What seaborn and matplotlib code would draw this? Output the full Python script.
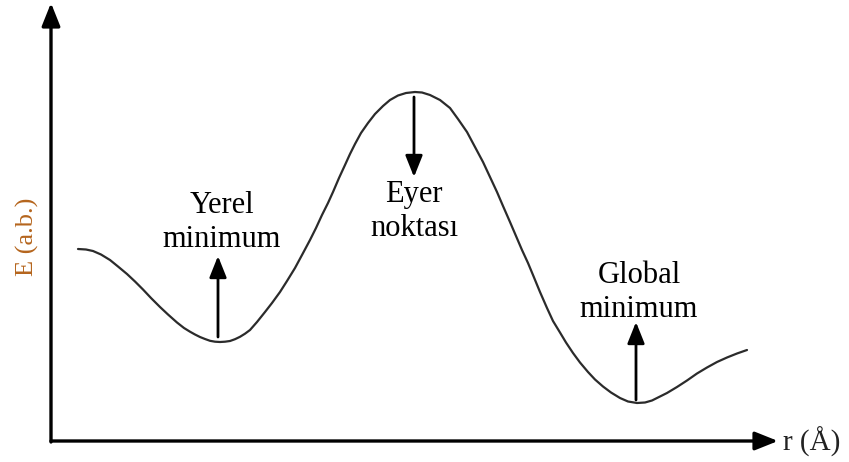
import numpy as np
import pandas as pd
import matplotlib
matplotlib.use("Agg")
import matplotlib.pyplot as plt
import seaborn as sns

# potential energy curve (arbitrary units)
r_values = [78, 86, 93, 101, 110, 118, 127, 135, 143, 151, 160, 168, 177, 184,
            190, 195, 200, 205, 210, 215, 220, 225, 230, 235, 240, 245, 250, 257,
            265, 272, 280, 287, 295, 302, 310, 316, 322, 328, 333, 339, 345, 350,
            355, 361, 368, 375, 383, 390, 398, 406, 415, 422, 430, 440, 450, 458,
            467, 475, 483, 490, 497, 503, 510, 516, 522, 528, 533, 540, 547, 553,
            560, 566, 573, 580, 588, 595, 603, 611, 620, 628, 637, 645, 652, 660,
            667, 677, 687, 697, 707, 717, 727, 737, 747]
e_values = [213, 212.5, 211, 207.5, 202, 195.5, 188, 180.5, 172.5, 164, 155, 147.5, 139.5, 134,
            130.3, 127.5, 125, 123, 121.2, 120.3, 120, 120.3, 121, 122.8, 125.2, 128.3, 132, 140,
            150, 159, 170, 181, 194, 207, 222, 234, 247, 259, 270, 284, 297, 308,
            318, 329, 339, 348, 356, 362, 366.5, 369, 370, 369.5, 367, 362, 354, 343,
            330, 315, 300, 285, 270, 256, 240, 226, 212, 199, 187, 170, 154, 141,
            129.5, 119.5, 109, 99.5, 90, 82.5, 75.5, 69.5, 64, 60.5, 59, 59.5, 61.5, 65.5,
            69, 75, 81.5, 88.5, 94.5, 100, 104.5, 108.5, 112]

point_labels = ["Yerel\nminimum", "Eyer\nnoktası", "Global\nminimum"]
x_label = "r (Å)"
y_label = "E (a.b.)"

df = pd.DataFrame({"r": r_values, "E": e_values})

sns.set_style("white")
plt.rcParams["font.family"] = ["Liberation Serif", "DejaVu Serif"]

fig = plt.figure(figsize=(8.49, 4.62), dpi=100)
ax = fig.add_axes([0, 0, 1, 1])
ax.set_xlim(0, 849)
ax.set_ylim(0, 462)
ax.axis("off")

sns.lineplot(data=df, x="r", y="E", ax=ax, color="#2b2b2b", lw=1.6, sort=False,
             solid_joinstyle="round", solid_capstyle="round")

axis_arrow = dict(arrowstyle="-|>,head_length=0.7,head_width=0.28", lw=2.4,
                  color="black", mutation_scale=20, shrinkA=0, shrinkB=0)
ax.annotate("", xy=(51, 459), xytext=(51, 20), arrowprops=axis_arrow)
ax.annotate("", xy=(778, 21), xytext=(51, 21), arrowprops=axis_arrow)

ax.text(783, 11, x_label, fontsize=21, color="#222222", ha="left", va="baseline")
ax.text(27, 225, y_label, fontsize=19, color="#b5651d", rotation=90,
        ha="center", va="center")

# arrows pointing at the stationary points
point_arrow = dict(arrowstyle="-|>,head_length=0.65,head_width=0.26", lw=2.0,
                   color="black", mutation_scale=20, shrinkA=0, shrinkB=0)
ax.annotate("", xy=(218, 206), xytext=(218, 125), arrowprops=point_arrow)
ax.annotate("", xy=(414, 285), xytext=(414, 365), arrowprops=point_arrow)
ax.annotate("", xy=(636, 140), xytext=(636, 62), arrowprops=point_arrow)

label_pos = [(222, 249), (414, 260), (639, 179)]
for text, (x, y) in zip(point_labels, label_pos):
    first, second = text.split("\n")
    ax.text(x, y, first, fontsize=22, ha="center", va="baseline", color="black")
    ax.text(x, y - 34, second, fontsize=22, ha="center", va="baseline", color="black")

fig.savefig("out.png", dpi=100, facecolor="white")
